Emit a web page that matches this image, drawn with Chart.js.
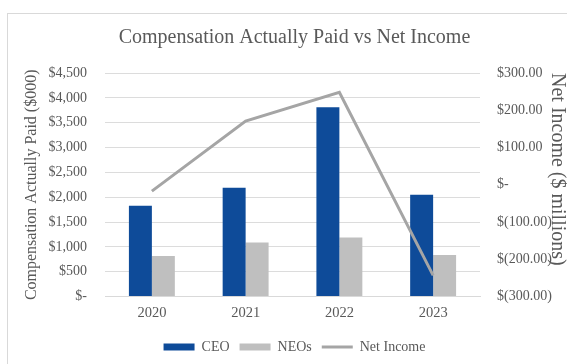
<!DOCTYPE html>
<html>
<head>
<meta charset="utf-8">
<script src="https://cdn.jsdelivr.net/npm/chart.js@4"></script>
<style>
  html, body { margin: 0; padding: 0; background: #fff; overflow: hidden; }
  #wrap { position: relative; width: 567px; height: 364px; }
  #frame { position: absolute; left: 7px; top: 13px; width: 620px; height: 420px; border: 1px solid #d9d9d9; }
  canvas { position: absolute; left: 0; top: 0; }
</style>
</head>
<body>
<div id="wrap">
  <div id="frame"></div>
  <canvas id="chart" width="567" height="364"></canvas>
</div>
<script>
const years = ['2020', '2021', '2022', '2023'];
const ceoPaid = [1830, 2190, 3810, 2050];
const neoPaid = [815, 1090, 1190, 835];
const netIncome = [-17, 171, 248, -243];

const serif = '"Liberation Serif", "Times New Roman", serif';
const textGrey = '#595959';

const leftFmt = v => v === 0 ? '$-' : '$' + v.toLocaleString('en-US');
const rightFmt = v => {
    if (v === 0) return '$-';
    const s = Math.abs(v).toFixed(2);
    return v < 0 ? '$(' + s + ')' : '$' + s;
};

new Chart(document.getElementById('chart').getContext('2d'), {
    data: {
        labels: years,
        datasets: [
            {
                type: 'line',
                label: 'Net Income',
                data: netIncome,
                yAxisID: 'y1',
                borderColor: '#a5a5a5',
                backgroundColor: '#a5a5a5',
                borderWidth: 3,
                pointRadius: 0,
                tension: 0,
                order: 0,
                pointStyle: 'line'
            },
            {
                type: 'bar',
                label: 'CEO',
                data: ceoPaid,
                yAxisID: 'y',
                backgroundColor: '#0e4b99',
                borderWidth: 0,
                order: 1,
                pointStyle: 'rect',
                barPercentage: 1,
                categoryPercentage: 0.49
            },
            {
                type: 'bar',
                label: 'NEOs',
                data: neoPaid,
                yAxisID: 'y',
                backgroundColor: '#bfbfbf',
                borderWidth: 0,
                order: 1,
                pointStyle: 'rect',
                barPercentage: 1,
                categoryPercentage: 0.49
            }
        ]
    },
    options: {
        responsive: false,
        animation: false,
        layout: { padding: { left: 22, right: 0, top: 26, bottom: 0 } },
        plugins: {
            title: {
                display: true,
                text: 'Compensation Actually Paid vs Net Income',
                color: textGrey,
                font: { family: serif, size: 20, weight: 'normal' },
                padding: { top: 0, bottom: 23 }
            },
            legend: {
                position: 'bottom',
                labels: {
                    usePointStyle: true,
                    pointStyleWidth: 31,
                    boxHeight: 7,
                    color: textGrey,
                    font: { family: serif, size: 14 },
                    padding: 10,
                    sort: (a, b) => {
                        const rank = { 'CEO': 0, 'NEOs': 1, 'Net Income': 2 };
                        return rank[a.text] - rank[b.text];
                    }
                }
            },
            tooltip: { enabled: false }
        },
        scales: {
            x: {
                grid: { display: false, drawTicks: false },
                border: { color: '#d9d9d9' },
                ticks: { color: textGrey, font: { family: serif, size: 14.5 }, padding: 8 }
            },
            y: {
                position: 'left',
                min: 0,
                max: 4500,
                afterFit: scale => { scale.width = 83; },
                grid: { color: '#dcdcdc', drawTicks: false },
                border: { display: false },
                ticks: {
                    stepSize: 500,
                    color: textGrey,
                    font: { family: serif, size: 14 },
                    padding: 18,
                    callback: leftFmt
                },
                title: {
                    display: true,
                    text: 'Compensation Actually Paid ($000)',
                    color: textGrey,
                    font: { family: serif, size: 16 },
                    padding: { top: 0, bottom: 0 }
                }
            },
            y1: {
                position: 'right',
                min: -300,
                max: 300,
                afterFit: scale => { scale.width = 87; },
                grid: { display: false, drawTicks: false },
                border: { display: false },
                ticks: {
                    stepSize: 100,
                    color: textGrey,
                    font: { family: serif, size: 14 },
                    padding: 17,
                    callback: rightFmt
                },
                title: {
                    display: true,
                    align: 'end',
                    text: 'Net Income ($ millions)',
                    color: textGrey,
                    font: { family: serif, size: 20, lineHeight: 1 },
                    padding: { top: 0, bottom: 0 }
                }
            }
        }
    }
});
</script>
</body>
</html>
